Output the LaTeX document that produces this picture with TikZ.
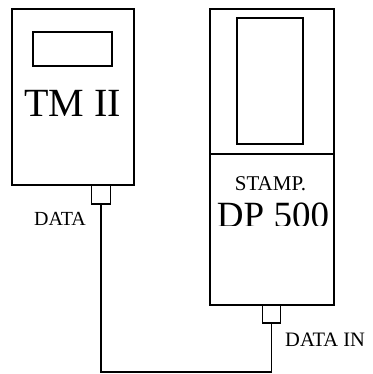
\documentclass[tikz,border=0pt]{standalone}
\usepackage{fontspec}
\setmainfont{Liberation Serif}
\begin{document}
\begin{tikzpicture}[x=1pt,y=-1pt,
  boxed/.style={draw, line width=1.6pt, inner sep=0pt, rectangle},
  wire/.style={line width=1.5pt},
  bigtxt/.style={inner sep=0pt, anchor=base, font=\fontsize{39}{46}\selectfont},
  smalltxt/.style={inner sep=0pt, anchor=base, font=\fontsize{20}{24}\selectfont}]
\useasboundingbox[fill=white] (0,0) rectangle (372,374);
% TM II unit
\node[boxed, minimum width=122pt, minimum height=176pt] (tm) at (73,97) {};
\node[boxed, minimum width=79pt, minimum height=34pt] (tmdisp) at (72.5,49) {};
\node[bigtxt, font=\fontsize{40}{48}\selectfont] (tmlabel) at (72.5,117) {TM II};
\node[boxed, minimum width=19pt, minimum height=19pt] (lc) at (101,194.5) {};
\node[smalltxt] (datalabel) at (60,225) {DATA};
% DP 500 unit
\node[boxed, minimum width=124pt, minimum height=296pt] (dp) at (272,157) {};
\node[boxed, minimum width=66pt, minimum height=126pt] (dpdisp) at (270,81) {};
\coordinate (divl) at (210,154);
\coordinate (divr) at (334,154);
\draw[line width=1.6pt] (divl) -- (divr);
\node[smalltxt, font=\fontsize{21}{25}\selectfont] (stamp) at (270.5,190) {STAMP.};
\begin{scope}
\clip (211,195) rectangle (333,225);
\node[bigtxt, font=\fontsize{37}{44}\selectfont] (dplabel) at (273,227.5) {DP 500};
\end{scope}
\node[boxed, minimum width=18pt, minimum height=18pt] (rc) at (271.5,314) {};
\node[smalltxt, anchor=base west, font=\fontsize{20.5}{24}\selectfont] (datain) at (285,346) {DATA IN};
% cable
\coordinate (wb) at (100,372);
\draw[wire] (lc.south) -- (lc.south |- wb) -| (rc.south);
\end{tikzpicture}
\end{document}
